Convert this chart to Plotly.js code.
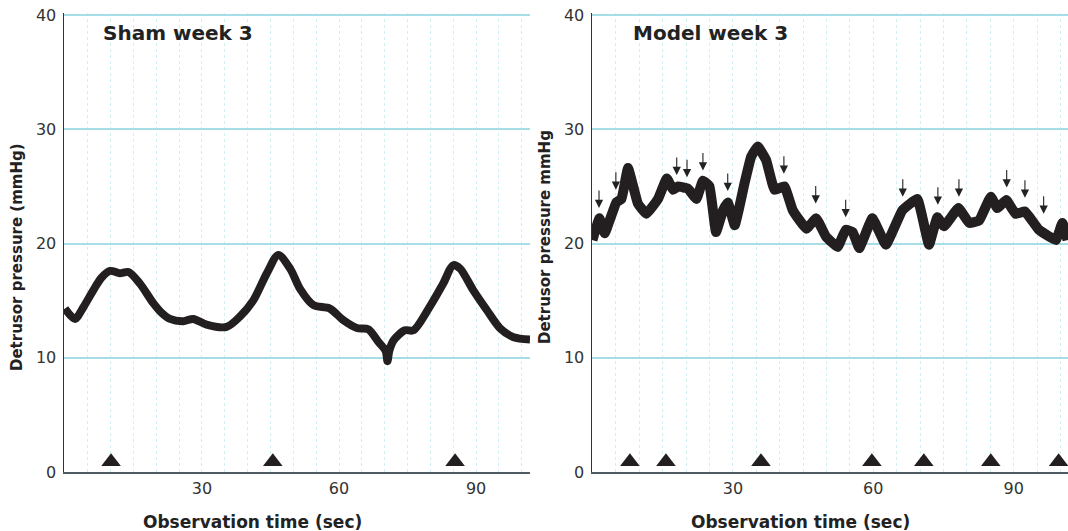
<!DOCTYPE html>
<html>
<head>
<meta charset="utf-8">
<script src="https://cdn.plot.ly/plotly-3.0.1.min.js"></script>
<style>html,body{margin:0;padding:0;background:#fff}#chart{width:1068px;height:531px}</style>
</head>
<body>
<div id="chart"></div>
<script>
// Sham week 3 trace (sec, mmHg)
const shamTime = [0, 2.2, 4, 6.2, 8, 9.9, 12.0, 13.9, 16.4, 19.3, 21, 23.0, 25.9, 28.1, 31.0, 35.4, 38.3, 41.2, 44.2, 46.7, 49.3, 51.5, 54.4, 58.0, 60.9, 63.9, 66.4, 68.6, 70.2, 70.6, 71.0, 71.9, 74.4, 76.3, 79.9, 82.8, 85.0, 86.5, 89.4, 92.3, 95.2, 98.2, 101.8];
const shamPressure = [14.3, 13.4, 14.4, 15.9, 17.0, 17.6, 17.4, 17.5, 16.5, 14.8, 14.0, 13.4, 13.2, 13.4, 12.9, 12.7, 13.6, 15.0, 17.4, 19.0, 17.8, 16.0, 14.6, 14.3, 13.3, 12.6, 12.5, 11.4, 10.6, 9.7, 10.6, 11.5, 12.4, 12.4, 14.5, 16.5, 18.1, 17.8, 15.9, 14.2, 12.6, 11.8, 11.6];
// Model week 3 trace
const modelTime = [0, 1.5, 2.6, 5.1, 6.2, 7.6, 9.7, 11.5, 14.0, 15.9, 17.2, 18.3, 20.4, 22.2, 23.6, 25.0, 26.4, 27.9, 28.9, 30.4, 32.5, 33.9, 35.3, 37.1, 38.9, 41.0, 42.8, 45.7, 47.8, 49.9, 52.4, 54.1, 55.6, 57.0, 59.8, 62.7, 66.2, 69.4, 71.9, 73.7, 75.1, 78.2, 80.5, 82.6, 85.1, 86.5, 88.4, 90.4, 92.4, 95.4, 99.0, 100.4, 101.5];
const modelPressure = [20.3, 22.2, 20.9, 23.6, 23.9, 26.6, 23.5, 22.6, 23.9, 25.7, 24.7, 25.0, 24.8, 23.9, 25.5, 25.0, 21.0, 22.9, 23.6, 21.6, 25.3, 27.6, 28.5, 27.3, 24.7, 25.0, 22.9, 21.3, 22.2, 20.6, 19.7, 21.2, 21.0, 19.6, 22.2, 19.9, 22.9, 23.9, 19.9, 22.3, 21.5, 23.1, 21.8, 22.0, 24.1, 23.1, 23.8, 22.6, 22.8, 21.2, 20.3, 21.8, 20.3];
// Voiding markers (triangles)
const shamVoidTime = [10.1, 45.5, 85.4];
const modelVoidTime = [8.0, 15.7, 36.0, 59.7, 70.8, 85.1, 99.6];
const voidLevel = 0.9;
// Non-voiding contraction arrows (tip position)
const arrowTime = [1.4, 5.0, 18.0, 20.2, 23.6, 28.9, 40.9, 47.7, 54.1, 66.3, 73.8, 78.3, 88.5, 92.4, 96.4];
const arrowTip = [23.1, 24.7, 26.0, 25.8, 26.4, 24.6, 26.1, 23.5, 22.3, 24.1, 23.4, 24.1, 24.9, 24.0, 22.6];
// Labels
const yTicks = [0, 10, 20, 30, 40];
const xTicks = [30, 60, 90];
const panelTitles = ['Sham week 3', 'Model week 3'];
const xTitle = 'Observation time (sec)';
const yTitles = ['Detrusor pressure (mmHg)', 'Detrusor pressure mmHg'];

const ink = '#231f20';
const FONT = 'DejaVu Sans, Verdana, sans-serif';

const traces = [
  {x: shamTime, y: shamPressure, xaxis: 'x', yaxis: 'y', mode: 'lines',
   line: {color: ink, width: 8, shape: 'spline', smoothing: 0.8}, hoverinfo: 'skip'},
  {x: modelTime, y: modelPressure, xaxis: 'x2', yaxis: 'y2', mode: 'lines',
   line: {color: ink, width: 10, shape: 'spline', smoothing: 0.3}, hoverinfo: 'skip'},
  {x: shamVoidTime, y: shamVoidTime.map(() => voidLevel), xaxis: 'x', yaxis: 'y', mode: 'markers',
   marker: {symbol: 'triangle-up', size: 17, color: ink}, cliponaxis: false},
  {x: modelVoidTime, y: modelVoidTime.map(() => voidLevel), xaxis: 'x2', yaxis: 'y2', mode: 'markers',
   marker: {symbol: 'triangle-up', size: 17, color: ink}, cliponaxis: false}
];

function xAxis(domain, range) {
  return {
    domain: domain, range: range, tickvals: xTicks, ticktext: xTicks.map(String),
    showgrid: true, gridcolor: '#d3eff4', griddash: 'dot', gridwidth: 1,
    minor: {dtick: 5, tick0: 0, showgrid: true, gridcolor: '#d3eff4', griddash: 'dot', gridwidth: 1, ticklen: 0},
    showline: true, linecolor: '#4f5b60', linewidth: 2, ticks: '', zeroline: false,
    tickfont: {family: FONT, size: 16, color: '#333'}, ticklabelstandoff: 1, fixedrange: true
  };
}
function yAxis(anchor) {
  return {
    anchor: anchor, range: [0, 40.175], tickvals: yTicks, ticktext: yTicks.map(String),
    showgrid: true, gridcolor: '#a6dde7', gridwidth: 2, zeroline: false,
    showline: true, linecolor: '#333', linewidth: 1.5, ticks: '',
    tickfont: {family: FONT, size: 16, color: '#333'}, ticklabelstandoff: 3, fixedrange: true
  };
}

const annotations = [];
arrowTime.forEach((t, i) => {
  annotations.push({x: t, y: arrowTip[i], xref: 'x2', yref: 'y2', text: '', showarrow: true,
    arrowhead: 2, arrowsize: 1.5, arrowwidth: 1.1, arrowcolor: '#222', ax: 0, ay: -19});
});
annotations.push({text: '<b>' + panelTitles[0] + '</b>', xref: 'paper', yref: 'paper', x: (178 - 64) / 1004, y: (531 - 33 - 59) / 459, xanchor: 'center', yanchor: 'middle', showarrow: false, font: {family: FONT, size: 20, color: '#222'}});
annotations.push({text: '<b>' + panelTitles[1] + '</b>', xref: 'paper', yref: 'paper', x: (710 - 64) / 1004, y: (531 - 33 - 59) / 459, xanchor: 'center', yanchor: 'middle', showarrow: false, font: {family: FONT, size: 20, color: '#222'}});
annotations.push({text: '<b>' + xTitle + '</b>', xref: 'paper', yref: 'paper', x: (252 - 64) / 1004, y: (531 - 522 - 59) / 459, xanchor: 'center', yanchor: 'middle', showarrow: false, font: {family: FONT, size: 17, color: '#222'}});
annotations.push({text: '<b>' + xTitle + '</b>', xref: 'paper', yref: 'paper', x: (800 - 64) / 1004, y: (531 - 522 - 59) / 459, xanchor: 'center', yanchor: 'middle', showarrow: false, font: {family: FONT, size: 17, color: '#222'}});
annotations.push({text: '<b>' + yTitles[0] + '</b>', xref: 'paper', yref: 'paper', x: (17 - 64) / 1004, y: (531 - 257 - 59) / 459, xanchor: 'center', yanchor: 'middle', textangle: -90, showarrow: false, font: {family: FONT, size: 15, color: '#222'}});
annotations.push({text: '<b>' + yTitles[1] + '</b>', xref: 'paper', yref: 'paper', x: (545 - 64) / 1004, y: (531 - 237 - 59) / 459, xanchor: 'center', yanchor: 'middle', textangle: -90, showarrow: false, font: {family: FONT, size: 15, color: '#222'}});

const layout = {
  width: 1068, height: 531,
  margin: {l: 64, r: 0, t: 13, b: 59},
  paper_bgcolor: '#fff', plot_bgcolor: '#fff',
  showlegend: false,
  xaxis: Object.assign(xAxis([0, 466 / 1004], [-0.2, 101.8]), {anchor: 'y'}),
  yaxis: yAxis('x'),
  xaxis2: Object.assign(xAxis([528 / 1004, 1], [-0.1, 101.6]), {anchor: 'y2'}),
  yaxis2: yAxis('x2'),
  annotations: annotations,
  font: {family: FONT}
};

Plotly.newPlot('chart', traces, layout, {displayModeBar: false, staticPlot: true});
</script>
</body>
</html>
